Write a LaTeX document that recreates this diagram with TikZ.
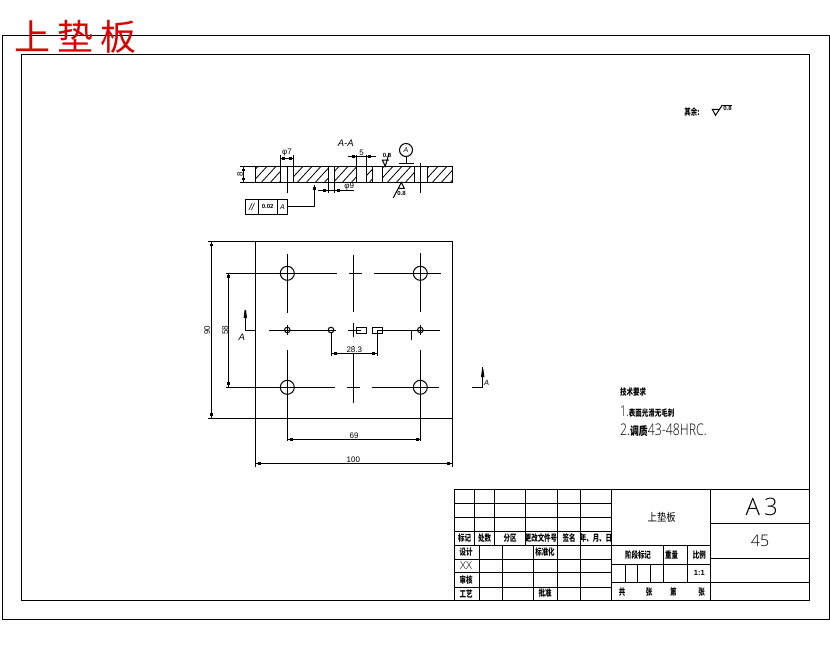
\documentclass[tikz,border=0pt]{standalone}
\usepackage{fontspec}
\setmainfont{Liberation Sans}
\newfontfamily\cjk{Noto Sans CJK SC}
\newfontfamily\thinf{Open Sans Light}
\newcommand{\sqdot}[2]{\fill (#1-1.4,#2-1.4) rectangle (#1+1.4,#2+1.4);}
\tikzset{
  ln/.style={line width=1pt,draw=black},
  thin line/.style={line width=.8pt,draw=black},
  cn/.style={font=\cjk\bfseries\fontsize{9}{9}\selectfont,xscale=.72,transform shape,inner sep=0pt},
  cnb/.style={font=\cjk\fontsize{11}{11}\selectfont,xscale=.85,transform shape,inner sep=0pt},
  dimt/.style={font=\fontsize{8}{8}\selectfont,inner sep=0pt},
  dimb/.style={font=\bfseries\fontsize{6}{6}\selectfont,inner sep=0pt},
  ita/.style={font=\itshape\fontsize{9.5}{9.5}\selectfont,inner sep=0pt},
}
\begin{document}
\begin{tikzpicture}[x=1pt,y=-1pt,line join=miter]
\useasboundingbox[fill=white] (0,0) rectangle (830,654);
% frames
\draw[ln] (2.3,35.5) rectangle (829,619.5);
\draw[ln] (21.7,54) rectangle (809.5,600);
% red title
\node[anchor=west,inner sep=0pt,text=red!85!black,font=\cjk\fontsize{36}{36}\selectfont] (title) at (14,37) {上\hspace{7pt}垫\hspace{7pt}板};

% section view
\begin{scope}
\clip (255,166.3) rectangle (280.3,182.3)
      (293.7,166.3) rectangle (328.3,182.3)
      (334.3,166.3) rectangle (356.7,182.3)
      (366.3,166.3) rectangle (372.3,182.3)
      (382.3,166.3) rectangle (414.3,182.3)
      (427.7,166.3) rectangle (452.3,182.3);
\foreach \k in {0,...,24} {
  \draw[thin line] (240+\k*9,186) -- (262+\k*9,162);
}
\end{scope}
\draw[ln] (255,166.3) rectangle (452.3,182.3);
\foreach \xx in {280.3,293.7,328.3,334.3,356.7,366.3,372.3,382.3,414.3,427.7}
  \draw[ln] (\xx,166.3) -- (\xx,182.3);
\draw[ln] (287.3,166.3) -- (287.3,179) -- (287.3,193);
\draw[ln] (420.3,163) -- (420.3,193);
% phi 7
\draw[ln] (280.3,155) -- (280.3,166.3) (293.7,155) -- (293.7,166.3);
\draw[ln] (280.3,158.3) -- (293.7,158.3);
\sqdot{283.5}{158.3}\sqdot{290.5}{158.3}
\node[dimt] (t7) at (287,153) {φ7};
% 5
\draw[ln] (356.7,155) -- (356.7,166.3) (366.3,155) -- (366.3,166.3);
\draw[ln] (347.7,156.7) -- (375.7,156.7);
\sqdot{353.5}{156.7}\sqdot{369.5}{156.7}
\node[dimt] (t5) at (361.7,152.5) {5};
\node[ita] (taa) at (345.7,143.5) {A-A};
% datum
\draw[ln] (406,150) circle (6.5);
\draw[ln] (406,156.5) -- (406,163.3);
\draw[ln] (399,163.3) -- (414,163.3);
\node[ita,font=\itshape\fontsize{7}{7}\selectfont] (tda) at (406,150) {A};
% roughness top
\draw[ln] (389,153.3) -- (385.3,166.3) -- (382.3,160) -- (389,160);
\node[dimb] (tr1) at (387,155.5) {0.8};
% roughness bottom
\draw[ln] (393.3,197.7) -- (398.3,188.3) -- (401.3,182.3) -- (404.3,188.3) -- (398.3,188.3);
\node[dimb] (tr2) at (401.5,193.5) {0.8};
% phi 9
\draw[ln] (328.3,182.3) -- (328.3,193) (334.3,182.3) -- (334.3,193);
\draw[ln] (318.3,190.7) -- (354.3,190.7);
\sqdot{324.3}{190.7}\sqdot{338.3}{190.7}
\node[dimt] (t9) at (349.3,186.5) {φ9};
% thickness
\draw[ln] (240,166.3) -- (255,166.3) (240,182.3) -- (255,182.3);
\draw[ln] (243.3,166.3) -- (243.3,182.3);
\sqdot{243.3}{170}\sqdot{243.3}{179}
\node[dimt,rotate=90,transform shape] (t8) at (240,174.3) {8};
% tolerance frame
\draw[ln] (245.3,199.3) rectangle (287.7,214);
\draw[ln] (258,199.3) -- (258,214) (277.3,199.3) -- (277.3,214);
\node[ita] (tpar) at (251.7,206.7) {//};
\node[dimb] (ttol) at (267.7,206.7) {0.02};
\node[ita,font=\itshape\fontsize{7}{7}\selectfont] (tfa) at (282.5,206.7) {A};
\draw[ln] (287.7,206) -- (314.7,206) -- (314.7,185);
\sqdot{314.7}{188.3}

% plan view
\draw[ln] (208.3,241) -- (452.5,241) -- (452.5,466.7);
\draw[ln] (208.3,418.3) -- (452.5,418.3);
\draw[ln] (255,241) -- (255,466.7);
% 90
\draw[ln] (211.3,241) -- (211.3,418.3);
\sqdot{211.3}{245}\sqdot{211.3}{414.3}
\node[dimt,rotate=90,transform shape] (t90) at (207,330) {90};
% 58
\draw[ln] (228.3,273.3) -- (228.3,387.3);
\sqdot{228.3}{276.5}\sqdot{228.3}{383.5}
\node[dimt,rotate=90,transform shape] (t58) at (225,330) {58};
% centre lines
\draw[ln] (226,273.3) -- (336.7,273.3) (349,273.3) -- (362,273.3) (374,273.3) -- (440.7,273.3);
\draw[ln] (226,387.3) -- (335,387.3) (346.7,387.3) -- (360,387.3) (372,387.3) -- (439,387.3);
\draw[ln] (269,330) -- (336,330) (348.3,330) -- (361,330) (377.3,330) -- (440,330);
\draw[ln] (287.3,254) -- (287.3,312.7) (287.3,325) -- (287.3,335) (287.3,350) -- (287.3,440.7);
\draw[ln] (353.7,255) -- (353.7,312.3) (353.7,323.3) -- (353.7,336.7) (353.7,346) -- (353.7,403.3);
\draw[ln] (420.3,253.3) -- (420.3,311.7) (420.3,325) -- (420.3,335) (420.3,350) -- (420.3,440.7);
\draw[ln] (411.3,330) -- (411.3,340);
% holes
\foreach \xx/\yy in {287.3/273.3,420.3/273.3,287.3/387.3,420.3/387.3}
  \draw[ln] (\xx,\yy) circle (7);
\foreach \xx in {287.3,331,420.3}
  \draw[ln] (\xx,330) circle (2.8);
\draw[ln] (356.7,327.3) rectangle (366.3,333.3);
\draw[ln] (372.3,327.3) rectangle (382.7,333.3);
% 28.3
\draw[ln] (331,332.8) -- (331,356) (377.3,330) -- (377.3,356);
\draw[ln] (331,353.3) -- (377.3,353.3);
\sqdot{335.3}{353.3}\sqdot{373.3}{353.3}
\node[dimt,fill=white,inner xsep=.5pt] (t283) at (354.3,349.7) {28.3};
% 69
\draw[ln] (287.3,439.3) -- (420.3,439.3);
\sqdot{291.5}{439.3}\sqdot{417.5}{439.3}
\node[dimt] (t69) at (354,435.5) {69};
% 100
\draw[ln] (255,463.3) -- (452.5,463.3);
\sqdot{259.5}{463.3}\sqdot{448.5}{463.3}
\node[dimt] (t100) at (353.3,459.5) {100};
% section marks
\draw[ln] (255,330) -- (245.3,330) -- (245.3,310);
\fill (243.6,318) -- (247,318) -- (246,310) -- (244.6,310) -- cycle;
\node[ita] (tal) at (241.7,337) {A};
\draw[ln] (472.3,387.3) -- (482.7,387.3) -- (482.7,367.3);
\fill (481,377) -- (484.4,377) -- (483.4,369) -- (482,369) -- cycle;
\node[ita,font=\itshape\fontsize{7.5}{7.5}\selectfont] (tar) at (486.7,383.3) {A};

% remaining surface finish
\node[cn] (trest) at (692,112) {其余:};
\draw[ln] (722.3,105) -- (715.5,115.3) -- (712.3,109.3) -- (720,109.3);
\draw[ln] (722.3,105) -- (732,105);
\node[dimb] (trs) at (727.5,108.5) {0.8};

% technical notes
\node[cn,anchor=west] (tn0) at (620,392) {技术要求};
\node[anchor=west,inner sep=0pt,xscale=.72,transform shape] (tn1) at (620,411.5) {\thinf\fontsize{15}{15}\selectfont 1.\cjk\bfseries\fontsize{9}{9}\selectfont 表面光滑无毛刺};
\node[anchor=west,inner sep=0pt,xscale=.77,transform shape] (tn2) at (620,430) {\thinf\fontsize{16}{16}\selectfont 2.\cjk\bfseries\fontsize{11.5}{11.5}\selectfont 调质\thinf\mdseries\fontsize{16}{16}\selectfont 43-48HRC.};

% title block, left part
\draw[ln] (454.3,489.7) rectangle (809.5,600);
\foreach \yy in {503.3,517.3,531.7,545.3,559.7,572.8,587}
  \draw[ln] (454.3,\yy) -- (611.7,\yy);
\foreach \xx in {474.3,494.3,525.3,557.3,580.3}
  \draw[ln] (\xx,489.7) -- (\xx,545.3);
\foreach \xx in {479,502.3,533.3,557.3,580.3}
  \draw[ln] (\xx,545.3) -- (\xx,600);
\draw[ln] (611.7,489.7) -- (611.7,600);
\draw[ln] (710.3,489.7) -- (710.3,600);
\draw[ln] (611.7,545.3) -- (710.3,545.3);
\draw[ln] (611.7,564.3) -- (710.3,564.3);
\draw[ln] (611.7,582.3) -- (809.5,582.3);
\draw[ln] (663.3,545.3) -- (663.3,582.3) (687.7,545.3) -- (687.7,582.3);
\draw[ln] (625,564.3) -- (625,582.3) (637.3,564.3) -- (637.3,582.3) (650.7,564.3) -- (650.7,582.3);
\draw[ln] (710.3,523.3) -- (809.5,523.3) (710.3,558.3) -- (809.5,558.3);
% header texts
\node[cn] (h1) at (464.5,538.5) {标记};
\node[cn] (h2) at (484.5,538.5) {处数};
\node[cn] (h3) at (510,538.5) {分区};
\node[cn] (h4) at (541,538.5) {更改文件号};
\node[cn] (h5) at (569,538.5) {签名};
\node[cn] (h6) at (596,538.5) {年、月、日};
\node[cn] (r1) at (466,552.5) {设计};
\node[font=\thinf\fontsize{11}{11}\selectfont,inner sep=0pt] (r2) at (466,566) {XX};
\node[cn] (r3) at (466,580) {审核};
\node[cn] (r4) at (466,593.5) {工艺};
\node[cn] (r5) at (545,552.5) {标准化};
\node[cn] (r6) at (545,593.5) {批准};
\node[cnb] (m1) at (661.7,517.7) {上垫板};
\node[cn] (m2) at (638,554.7) {阶段标记};
\node[cn] (m3) at (671.7,554.7) {重量};
\node[cn] (m4) at (699.3,554.7) {比例};
\node[dimb,font=\bfseries\fontsize{7.5}{7.5}\selectfont] (m5) at (699.3,573.3) {1:1};
\node[cn] (m6) at (622,591.7) {共};
\node[cn] (m7) at (649,591.7) {张};
\node[cn] (m8) at (673.3,591.7) {第};
\node[cn] (m9) at (701.7,591.7) {张};
\node[font=\thinf\fontsize{24}{24}\selectfont,inner sep=0pt] (a3) at (761.7,507) {A\,3};
\node[font=\thinf\fontsize{16}{16}\selectfont,inner sep=0pt] (mat) at (760,541) {45};
\end{tikzpicture}
\end{document}
